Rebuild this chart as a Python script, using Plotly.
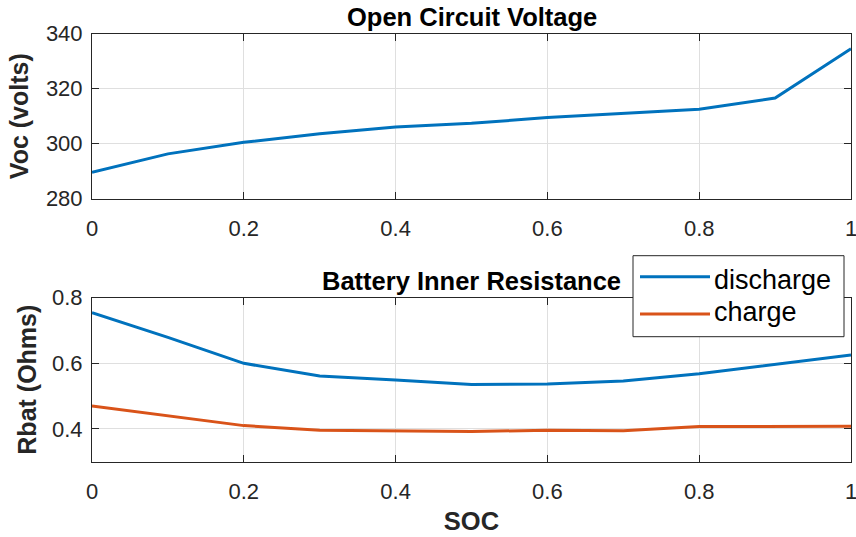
import plotly.graph_objects as go

# State of charge grid shared by both panels
soc = [0, 0.1, 0.2, 0.3, 0.4, 0.5, 0.6, 0.7, 0.8, 0.9, 1.0]

# Open circuit voltage (volts)
voc = [289.6, 296.3, 300.5, 303.6, 306.1, 307.4, 309.5, 311.0, 312.5, 316.6, 334.5]

# Battery inner resistance (Ohms)
r_discharge = [0.754, 0.679, 0.600, 0.561, 0.549, 0.535, 0.537, 0.546, 0.568, 0.597, 0.625]
r_charge = [0.470, 0.440, 0.410, 0.396, 0.395, 0.392, 0.396, 0.394, 0.407, 0.408, 0.408]

series_names = ["discharge", "charge"]
colors = ["#0072BD", "#D95319"]

x_ticks = [0, 0.2, 0.4, 0.6, 0.8, 1.0]
voc_ticks = [280, 300, 320, 340]
r_ticks = [0.4, 0.6, 0.8]

W, H = 856, 537
ML, MR = 92, 5
FONT = "Liberation Sans, Arial, Helvetica, sans-serif"
AX = "#262626"
GRID = "#dfdfdf"
LW = 3

fig = go.Figure()
fig.add_trace(go.Scatter(x=soc, y=voc, mode="lines", line=dict(color=colors[0], width=LW),
                         xaxis="x", yaxis="y", showlegend=False))
fig.add_trace(go.Scatter(x=soc, y=r_discharge, mode="lines", name=series_names[0],
                         line=dict(color=colors[0], width=LW), xaxis="x2", yaxis="y2", showlegend=False))
fig.add_trace(go.Scatter(x=soc, y=r_charge, mode="lines", name=series_names[1],
                         line=dict(color=colors[1], width=LW), xaxis="x2", yaxis="y2", showlegend=False))

def py(px):
    # pixel row -> paper y (no top/bottom margin)
    return 1 - px / H

def pxx(px):
    # pixel column -> paper x (paper spans the area inside the margins)
    return (px - ML) / (W - ML - MR)

axis_common = dict(
    showline=True, linecolor=AX, linewidth=1, mirror="allticks",
    ticks="inside", ticklen=7, tickcolor=AX, tickwidth=1,
    showgrid=True, gridcolor=GRID, gridwidth=1, zeroline=False,
    tickfont=dict(family=FONT, size=22, color=AX),
    automargin=False, ticklabeloverflow="allow",
)

fig.update_layout(
    width=W, height=H,
    margin=dict(l=ML, r=MR, t=0, b=0),
    paper_bgcolor="white", plot_bgcolor="white",
    font=dict(family=FONT, color=AX),
    xaxis=dict(domain=[0, 1], range=[0, 1], tickvals=x_ticks, anchor="y",
               ticklabelstandoff=10, **axis_common),
    yaxis=dict(domain=[py(198.7), py(33.7)], range=[280, 340], tickvals=voc_ticks, anchor="x",
               ticklabelstandoff=4,
               title=dict(text="<b>Voc (volts)</b>", font=dict(family=FONT, size=25, color=AX), standoff=10),
               **axis_common),
    xaxis2=dict(domain=[0, 1], range=[0, 1], tickvals=x_ticks, anchor="y2",
                ticklabelstandoff=10,
                title=dict(text="<b>SOC</b>", font=dict(family=FONT, size=25.5, color=AX), standoff=9),
                **axis_common),
    yaxis2=dict(domain=[py(461.7), py(297.7)], range=[0.3, 0.8], tickvals=r_ticks, anchor="x2",
                ticklabelstandoff=4,
                title=dict(text="<b>Rbat (Ohms)</b>", font=dict(family=FONT, size=25, color=AX), standoff=8),
                **axis_common),
)

# Panel titles
fig.add_annotation(text="<b>Open Circuit Voltage</b>", xref="x domain", yref="paper",
                   x=0.5, y=py(17), xanchor="center", yanchor="middle", showarrow=False,
                   font=dict(family=FONT, size=25.5, color="black"))
fig.add_annotation(text="<b>Battery Inner Resistance</b>", xref="x2 domain", yref="paper",
                   x=0.5, y=py(281), xanchor="center", yanchor="middle", showarrow=False,
                   font=dict(family=FONT, size=25.5, color="black"))

# Legend box for the resistance panel
fig.add_shape(type="rect", xref="paper", yref="paper",
              x0=pxx(633), x1=pxx(844), y0=py(336.7), y1=py(255.7),
              line=dict(color=AX, width=1), fillcolor="white", layer="above")
for name, color, line_y, text_y in zip(series_names, colors, [276.7, 314], [280, 311.5]):
    fig.add_shape(type="line", xref="paper", yref="paper",
                  x0=pxx(640), x1=pxx(710), y0=py(line_y), y1=py(line_y),
                  line=dict(color=color, width=LW), layer="above")
    fig.add_annotation(text=name, xref="paper", yref="paper", x=pxx(712), y=py(text_y),
                       xanchor="left", yanchor="middle", showarrow=False,
                       font=dict(family=FONT, size=27, color="black"))

fig.write_html("out.html")
